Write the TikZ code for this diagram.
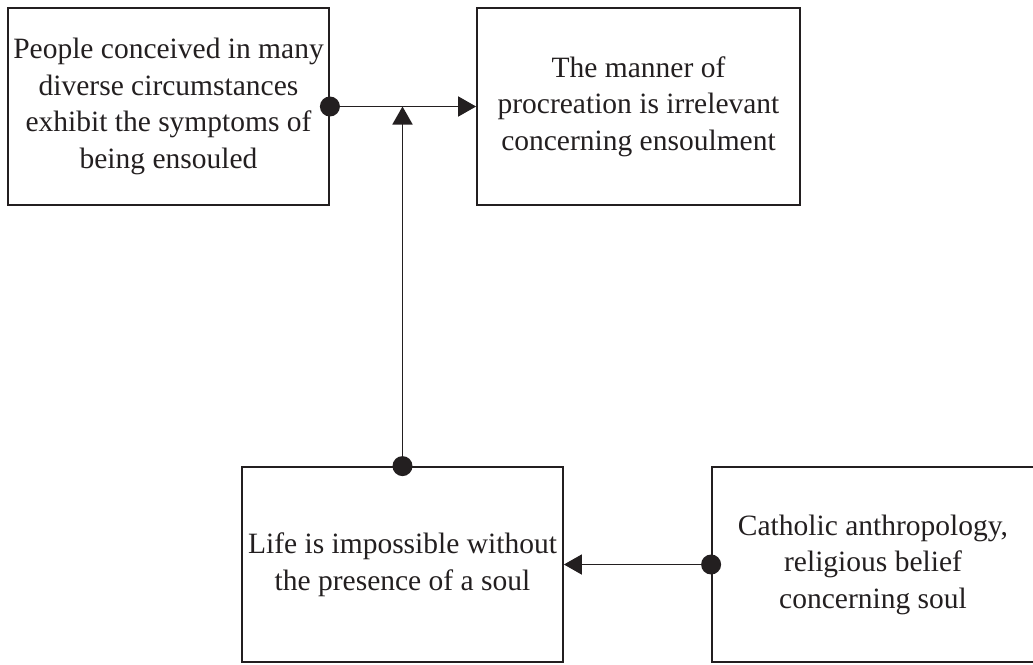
\documentclass[tikz,border=0pt]{standalone}
\usepackage{fontspec}
\setmainfont{Liberation Serif}
\usetikzlibrary{arrows.meta}
\definecolor{ink}{HTML}{231F20}
\begin{document}
\begin{tikzpicture}[x=1pt,y=-1pt,
  box/.style={draw=ink, line width=1.8pt, rectangle, minimum width=321pt,
    minimum height=197pt, align=center, text=ink, inner sep=0pt,
    font=\fontsize{29.5}{36.5}\selectfont},
  link/.style={draw=ink, line width=1.8pt, -{Triangle[length=18pt,width=20pt]}},
  dotmark/.style={fill=ink}]
  \useasboundingbox (0,0) rectangle (1033,664);
  % statement boxes
  \node[box] (people) at (168.5,106.5) {People conceived in many\\diverse circumstances\\exhibit the symptoms of\\being ensouled};
  \node[box, minimum width=323pt] (manner) at (638.5,106.5) {The manner of\\procreation is irrelevant\\concerning ensoulment};
  \node[box, minimum height=195pt] (life) at (402.5,564.5) {Life is impossible without\\the presence of a soul};
  \node[box, minimum height=195pt, minimum width=322pt] (catholic) at (873,564.5) {Catholic anthropology,\\religious belief\\concerning soul};
  % junction on the upper link
  \coordinate (join) at (life.north |- people.east);
  % connectors
  \draw[link] (people.east) -- (manner.west);
  \draw[link] (life.north) -- (join);
  \draw[link] (catholic.west) -- (life.east);
  % origin dots
  \fill[dotmark] (people.east) circle (10pt);
  \fill[dotmark] (life.north) circle (10pt);
  \fill[dotmark] (catholic.west) circle (10pt);
\end{tikzpicture}
\end{document}
